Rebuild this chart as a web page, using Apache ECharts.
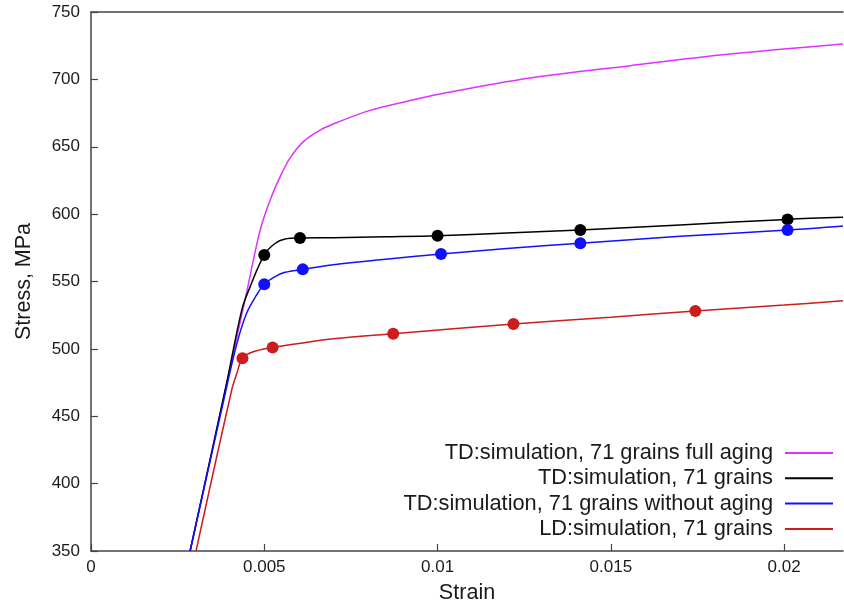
<!DOCTYPE html>
<html>
<head>
<meta charset="utf-8">
<script src="https://cdn.jsdelivr.net/npm/echarts@6/dist/echarts.min.js"></script>
<style>html,body{margin:0;padding:0;background:#fff}#c{width:844px;height:607px}</style>
</head>
<body>
<div id="c"></div>
<script>
const seriesNames = [
  'TD:simulation, 71 grains full aging',
  'TD:simulation, 71 grains',
  'TD:simulation, 71 grains without aging',
  'LD:simulation, 71 grains'
];
const xTicks = [0, 0.005, 0.01, 0.015, 0.02];
const yTicks = [350, 400, 450, 500, 550, 600, 650, 700, 750];

const fullAgingCurve = [
  [0.00286,350],[0.0040,484],[0.0045,543],[0.00488,588],[0.00517,610.5],
  [0.00546,627.8],[0.00574,641.5],[0.00613,653.8],[0.00661,662.4],[0.0071,668],[0.00805,677],
  [0.00912,683.8],[0.0100,688.8],[0.01267,701],[0.01556,710.2],[0.01845,718.8],[0.0217,726.3]
];
const tdCurve = [
  [0.00286,350],[0.0039,473],[0.00435,528.8],[0.00459,546],[0.0050,569.7],[0.0053,578],
  [0.0056,581.5],[0.00603,582.3],[0.007,582.5],[0.0085,583.2],[0.0100,584],
  [0.012,586],[0.01412,588.2],[0.017,592],[0.0201,596.1],[0.0217,597.6]
];
const tdMarkers = [[0.0050,569.7],[0.00603,582.3],[0.0100,584],[0.01412,588.2],[0.0201,596.1]];
const noAgingCurve = [
  [0.00286,350],[0.0039,470],[0.00421,504],[0.00449,526.4],[0.00478,540],[0.0050,548],[0.0053,553.5],
  [0.0056,556.8],[0.00611,559],[0.007,562.5],[0.0085,566.5],[0.0101,570.4],[0.012,574.5],
  [0.01412,578.3],[0.017,583.5],[0.0201,588.2],[0.0217,591.2]
];
const noAgingMarkers = [[0.0050,548],[0.00611,559],[0.0101,570.4],[0.01412,578.3],[0.0201,588.2]];
const ldCurve = [
  [0.00303,350],[0.00406,469.5],[0.00421,481.9],[0.00437,493],
  [0.0047,498],[0.00524,501],[0.006,504],[0.007,507.5],[0.00872,511.3],[0.01219,518.5],
  [0.015,523.5],[0.01744,528.1],[0.020,532.5],[0.0217,535.8]
];
const ldMarkers = [[0.00437,493],[0.00524,501],[0.00872,511.3],[0.01219,518.5],[0.01744,528.1]];

const colors = ['#dd33ff', '#000000', '#1010ff', '#cc1c1c'];
const FONT = '"Liberation Sans", Arial, sans-serif';
const axisColor = '#444';

function lineSeries(name, data, color) {
  return {
    name: name, type: 'line', data: data, symbol: 'none', smooth: 0.35,
    lineStyle: { color: color, width: 1.5 }, itemStyle: { color: color }, z: 2
  };
}
function markerSeries(name, data, color) {
  return {
    name: name, type: 'scatter', data: data, symbol: 'circle', symbolSize: 12,
    itemStyle: { color: color, opacity: 1 }, z: 3
  };
}

const chart = echarts.init(document.getElementById('c'), null, { renderer: 'canvas' });
chart.setOption({
  animation: false,
  backgroundColor: '#fff',
  grid: { left: 91, top: 12, right: 1, bottom: 56, containLabel: false, outerBoundsMode: 'none' },
  legend: {
    data: seriesNames.map((n, i) => ({ name: n, icon: 'rect', itemStyle: { color: colors[i] } })),
    orient: 'vertical', align: 'right', padding: 0,
    right: 11, top: 442,
    itemWidth: 48, itemHeight: 2, itemGap: 3.3,
    textStyle: { fontFamily: FONT, fontSize: 21.8, color: '#1a1a1a', lineHeight: 22, padding: [0, 7, 0, 0] },
    selectedMode: false
  },
  xAxis: [{
    type: 'value', min: 0, max: 0.0217, interval: 0.005,
    name: 'Strain', nameLocation: 'middle', nameGap: 31,
    nameTextStyle: { fontFamily: FONT, fontSize: 21.6, color: '#1a1a1a' },
    axisLine: { show: true, lineStyle: { color: axisColor, width: 1.5 } },
    axisTick: { show: true, inside: true, length: 7, lineStyle: { color: axisColor, width: 1.2 } },
    axisLabel: { fontFamily: FONT, fontSize: 17, color: '#1a1a1a', margin: 8, showMaxLabel: false,
      formatter: function (v) { return xTicks.some(t => Math.abs(t - v) < 1e-9) ? String(+v.toFixed(4)) : ''; } },
    splitLine: { show: false }
  }, {
    type: 'value', position: 'top', min: 0, max: 0.0217,
    axisLine: { show: true, onZero: false, lineStyle: { color: axisColor, width: 1.5 } },
    axisTick: { show: false }, axisLabel: { show: false }, splitLine: { show: false }
  }],
  yAxis: {
    type: 'value', min: yTicks[0], max: yTicks[yTicks.length - 1], interval: 50,
    name: 'Stress, MPa', nameLocation: 'middle', nameGap: 56, nameRotate: 90,
    nameTextStyle: { fontFamily: FONT, fontSize: 21.5, color: '#1a1a1a' },
    axisLine: { show: true, lineStyle: { color: axisColor, width: 1.5 } },
    axisTick: { show: true, inside: true, length: 7, lineStyle: { color: axisColor, width: 1.2 } },
    axisLabel: { fontFamily: FONT, fontSize: 17, color: '#1a1a1a', margin: 11 },
    splitLine: { show: false }
  },
  series: [
    lineSeries(seriesNames[0], fullAgingCurve, colors[0]),
    lineSeries(seriesNames[1], tdCurve, colors[1]),
    lineSeries(seriesNames[2], noAgingCurve, colors[2]),
    lineSeries(seriesNames[3], ldCurve, colors[3]),
    markerSeries('td markers', tdMarkers, colors[1]),
    markerSeries('no aging markers', noAgingMarkers, colors[2]),
    markerSeries('ld markers', ldMarkers, colors[3])
  ]
});
</script>
</body>
</html>
